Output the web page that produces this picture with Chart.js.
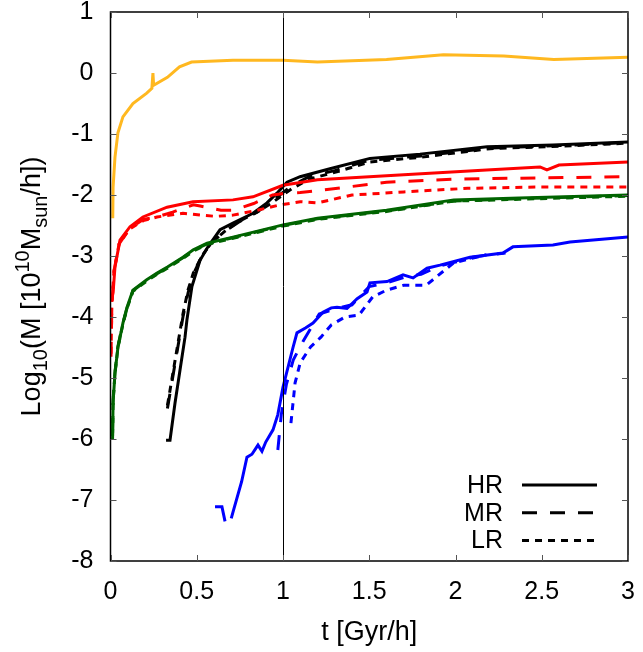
<!DOCTYPE html>
<html>
<head>
<meta charset="utf-8">
<script src="https://cdn.jsdelivr.net/npm/chart.js@4.4.1/dist/chart.umd.min.js"></script>
<style>
html,body{margin:0;padding:0;background:#fff;}
#wrap{width:643px;height:652px;position:relative;}
</style>
</head>
<body>
<div id="wrap"><canvas id="c" width="643" height="652"></canvas></div>
<script>
// ---- data (t in Gyr/h, log10 M) ----
const yellowT = [0.013,0.015,0.026,0.043,0.072,0.13,0.21,0.24,0.246,0.25,0.33,0.40,0.47,0.71,1.0,1.2,1.6,1.93,2.28,2.57,3.0];
const yellowHR = [-2.38,-1.87,-1.38,-0.98,-0.72,-0.5,-0.33,-0.25,0.0,-0.2,-0.07,0.1,0.18,0.21,0.21,0.18,0.22,0.3,0.28,0.22,0.26];

const redHRT = [0.005,0.015,0.026,0.055,0.113,0.188,0.328,0.478,0.71,0.826,1.0,1.2,1.7,2.18,2.49,2.53,2.6,3.0];
const redHR  = [-3.75,-3.6,-3.18,-2.74,-2.52,-2.36,-2.2,-2.11,-2.08,-2.03,-1.84,-1.75,-1.67,-1.59,-1.54,-1.59,-1.51,-1.46];
const redMRT = [0.003,0.008,0.02,0.05,0.11,0.19,0.27,0.36,0.48,0.52,0.64,0.71,0.83,0.94,1.02,1.1,1.2,1.6,1.99,2.47,3.0];
const redMR  = [-4.65,-3.8,-3.25,-2.8,-2.55,-2.4,-2.36,-2.28,-2.16,-2.18,-2.25,-2.25,-2.14,-2.0,-1.97,-1.96,-1.93,-1.79,-1.74,-1.72,-1.7];
const redLRT = [0.003,0.008,0.02,0.05,0.11,0.19,0.27,0.42,0.52,0.61,0.71,0.85,0.97,1.1,1.2,1.4,1.7,2.07,2.47,3.0];
const redLR  = [-4.6,-3.8,-3.25,-2.8,-2.56,-2.42,-2.36,-2.3,-2.33,-2.35,-2.33,-2.25,-2.17,-2.11,-2.13,-2.0,-1.95,-1.89,-1.87,-1.87];

const greenT  = [0.012,0.015,0.026,0.043,0.072,0.096,0.13,0.21,0.27,0.33,0.42,0.48,0.56,0.71,1.0,1.2,1.6,1.99,2.37,3.0];
const greenHR = [-6.0,-5.4,-4.92,-4.5,-4.1,-3.84,-3.56,-3.39,-3.28,-3.18,-3.02,-2.9,-2.79,-2.69,-2.49,-2.38,-2.25,-2.08,-2.05,-2.0];
const greenMR = [-5.9,-5.35,-4.9,-4.48,-4.1,-3.85,-3.57,-3.4,-3.29,-3.19,-3.03,-2.91,-2.8,-2.7,-2.5,-2.39,-2.26,-2.1,-2.06,-2.01];
const greenLR = [-5.95,-5.38,-4.93,-4.5,-4.12,-3.86,-3.58,-3.41,-3.3,-3.2,-3.04,-2.92,-2.81,-2.71,-2.51,-2.4,-2.27,-2.1,-2.07,-2.02];

const blackHRT = [0.322,0.345,0.374,0.403,0.432,0.443,0.472,0.519,0.565,0.635,0.71,0.826,0.907,0.965,1.023,1.099,1.272,1.504,1.794,2.183,2.565,3.0];
const blackHR  = [-6.02,-6.02,-5.41,-4.87,-4.33,-4.05,-3.5,-3.07,-2.85,-2.57,-2.46,-2.3,-2.13,-1.97,-1.79,-1.7,-1.57,-1.4,-1.33,-1.21,-1.18,-1.13];
const blackMRT = [0.33,0.36,0.39,0.42,0.45,0.48,0.53,0.58,0.66,0.74,0.85,0.93,0.99,1.05,1.15,1.3,1.5,1.8,2.2,2.6,3.0];
const blackMR  = [-5.5,-5.0,-4.5,-4.0,-3.6,-3.3,-3.0,-2.8,-2.6,-2.45,-2.28,-2.12,-1.98,-1.85,-1.7,-1.6,-1.43,-1.36,-1.23,-1.19,-1.14];
const blackLRT = [0.33,0.36,0.39,0.42,0.45,0.48,0.53,0.58,0.66,0.74,0.85,0.93,0.99,1.05,1.15,1.3,1.5,1.8,2.2,2.6,3.0];
const blackLR  = [-5.45,-4.95,-4.45,-3.95,-3.55,-3.28,-3.0,-2.8,-2.6,-2.44,-2.28,-2.14,-2.02,-1.9,-1.74,-1.63,-1.46,-1.38,-1.24,-1.2,-1.15];

const blueHRT = [0.606,0.646,0.664,0.68,0.7,0.71,0.76,0.791,0.82,0.855,0.878,0.9,0.942,0.97,1.0,1.058,1.081,1.13,1.174,1.232,1.28,1.313,1.371,1.43,1.487,1.504,1.603,1.696,1.754,1.835,1.91,2.084,2.275,2.333,2.565,2.664,3.0];
const blueHR  = [-7.11,-7.11,-7.35,null,-7.3,-7.2,-6.7,-6.3,-6.25,-6.1,-6.2,-6.05,-5.85,-5.6,-5.15,-4.5,-4.26,-4.18,-4.1,-3.92,-3.85,-3.84,-3.86,-3.7,-3.59,-3.44,-3.42,-3.31,-3.36,-3.2,-3.15,-3.02,-2.95,-2.85,-2.82,-2.77,-2.69];
const blueMRT = [0.97,0.99,1.02,1.06,1.12,1.21,1.3,1.4,1.5,1.6,1.7,1.8,1.9,2.0,2.1,2.2,2.29];
const blueMR  = [-6.18,-5.6,-5.1,-4.7,-4.38,-3.95,-3.87,-3.8,-3.5,-3.44,-3.35,-3.3,-3.17,-3.1,-3.02,-2.98,-2.95];
const blueLRT = [1.046,1.07,1.1,1.16,1.22,1.28,1.36,1.44,1.52,1.6,1.7,1.83,1.99,2.18];
const blueLR  = [-5.74,-5.08,-4.75,-4.49,-4.33,-4.13,-4.0,-3.97,-3.67,-3.56,-3.48,-3.48,-3.11,-2.98];

const xTicks = [0,0.5,1,1.5,2,2.5,3];
const yTicks = [-8,-7,-6,-5,-4,-3,-2,-1,0,1];
const legendLabels = ['HR','MR','LR'];
const markerT = 1;

// ---- styles ----
const C = {yellow:'#ffb820', red:'#ff0000', green:'#006400', black:'#000000', blue:'#0000ff'};
const DASH = {HR:[], MR:[15,13], LR:[7,6]};
const FONT = '"Liberation Sans", Arial, Helvetica, sans-serif';

function pts(t, y){ return t.map((v,i)=>({x:v, y:y[i]})); }
function ds(t, y, color, kind){
  return {data:pts(t,y), borderColor:color, borderWidth:3, borderDash:DASH[kind],
          showLine:true, pointRadius:0, fill:false, tension:0, spanGaps:false};
}

const datasets = [
  ds(yellowT, yellowHR, C.yellow, 'HR'),
  ds(greenT, greenLR, C.green, 'LR'),
  ds(greenT, greenMR, C.green, 'MR'),
  ds(greenT, greenHR, C.green, 'HR'),
  ds(redLRT, redLR, C.red, 'LR'),
  ds(redMRT, redMR, C.red, 'MR'),
  ds(redHRT, redHR, C.red, 'HR'),
  ds(blackLRT, blackLR, C.black, 'LR'),
  ds(blackMRT, blackMR, C.black, 'MR'),
  ds(blackHRT, blackHR, C.black, 'HR'),
  ds(blueLRT, blueLR, C.blue, 'LR'),
  ds(blueMRT, blueMR, C.blue, 'MR'),
  ds(blueHRT, blueHR, C.blue, 'HR'),
];

const decor = {
  id:'decor',
  afterDatasetsDraw(chart){
    const {ctx, chartArea:a, scales:{x, y}} = chart;
    ctx.save();
    ctx.setLineDash([]);
    ctx.strokeStyle = '#000';
    ctx.lineWidth = 1;
    // vertical marker line
    const xm = Math.round(x.getPixelForValue(markerT)) + 0.5;
    ctx.beginPath(); ctx.moveTo(xm, a.top); ctx.lineTo(xm, a.bottom); ctx.stroke();
    // frame
    ctx.lineWidth = 1.5;
    ctx.strokeRect(a.left, a.top, a.right - a.left, a.bottom - a.top);
    // inward ticks
    ctx.lineWidth = 1;
    ctx.strokeStyle = '#555';
    const L = 6;
    xTicks.forEach(v=>{
      const px = Math.round(x.getPixelForValue(v)) + 0.5;
      ctx.beginPath();
      ctx.moveTo(px, a.bottom); ctx.lineTo(px, a.bottom - L);
      ctx.moveTo(px, a.top); ctx.lineTo(px, a.top + L);
      ctx.stroke();
    });
    yTicks.forEach(v=>{
      const py = Math.round(y.getPixelForValue(v)) + 0.5;
      ctx.beginPath();
      ctx.moveTo(a.left, py); ctx.lineTo(a.left + L, py);
      ctx.moveTo(a.right, py); ctx.lineTo(a.right - L, py);
      ctx.stroke();
    });
    // legend
    ctx.fillStyle = '#000';
    ctx.strokeStyle = '#000';
    ctx.font = '25px ' + FONT;
    ctx.textAlign = 'right';
    ctx.textBaseline = 'middle';
    const lx = a.right - 125, ly0 = a.bottom - 76, dy = 27.8;
    legendLabels.forEach((lab,i)=>{
      const yy = ly0 + i*dy;
      ctx.fillText(lab, lx, yy + 1);
      ctx.setLineDash(DASH[lab]);
      ctx.lineWidth = 3;
      ctx.beginPath(); ctx.moveTo(lx + 19, yy); ctx.lineTo(lx + 94, yy); ctx.stroke();
    });
    ctx.setLineDash([]);
    // x title
    ctx.textAlign = 'center';
    ctx.textBaseline = 'middle';
    ctx.font = '27px ' + FONT;
    ctx.fillText('t [Gyr/h]', (a.left + a.right)/2, 633);
    // y title with sub/superscripts
    const parts = [
      ['Log',0],['10',1],['(M [10',0],['10',-1],['M',0],['sun',1],['/h])',0]
    ];
    const big = '27px ' + FONT, small = '20px ' + FONT;
    let total = 0;
    parts.forEach(p=>{ ctx.font = p[1] ? small : big; total += ctx.measureText(p[0]).width; });
    ctx.translate(40, (a.top + a.bottom)/2);
    ctx.rotate(-Math.PI/2);
    ctx.textAlign = 'left';
    ctx.textBaseline = 'alphabetic';
    let cx = -total/2;
    parts.forEach(p=>{
      ctx.font = p[1] ? small : big;
      const off = p[1] === 1 ? 7 : (p[1] === -1 ? -11 : 0);
      ctx.fillText(p[0], cx, off);
      cx += ctx.measureText(p[0]).width;
    });
    ctx.restore();
  }
};

new Chart(document.getElementById('c'), {
  type:'scatter',
  data:{datasets},
  options:{
    responsive:false,
    animation:false,
    events:[],
    layout:{padding:{left:10, right:15, top:12, bottom:0}},
    plugins:{legend:{display:false}, tooltip:{enabled:false}},
    scales:{
      x:{
        type:'linear', min:0, max:3,
        afterBuildTicks(s){ s.ticks = xTicks.map(v=>({value:v})); },
        ticks:{font:{size:25, family:FONT}, color:'#000', padding:16, maxRotation:0,
               callback:(v)=>String(v)},
        grid:{display:false, drawTicks:false},
        border:{display:false},
        afterFit(s){ s.height = 91; s.paddingLeft = 0; s.paddingRight = 0; }
      },
      y:{
        type:'linear', min:-8, max:1,
        afterBuildTicks(s){ s.ticks = yTicks.map(v=>({value:v})); },
        ticks:{font:{size:25, family:FONT}, color:'#000', padding:17,
               callback:(v)=>String(v)},
        grid:{display:false, drawTicks:false},
        border:{display:false},
        afterFit(s){ s.width = 100.5; s.paddingTop = 0; s.paddingBottom = 0; }
      }
    }
  },
  plugins:[decor]
});
</script>
</body>
</html>
